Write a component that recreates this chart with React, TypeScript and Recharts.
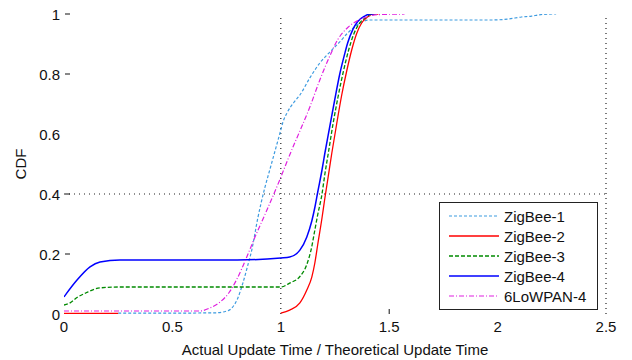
import React from 'react';
import { LineChart, Line, XAxis, YAxis, ReferenceLine, Label } from 'recharts';

// x = actual / theoretical update time, y = CDF
const zb1X = [0.25, 0.5, 0.7, 0.76, 0.78, 0.8, 0.825, 0.845, 0.866, 0.894, 0.926, 0.949, 0.972, 0.995, 1.01, 1.03, 1.06, 1.088, 1.134, 1.18, 1.226, 1.272, 1.309, 1.34, 1.373, 1.41, 1.5, 1.75, 1.963, 2.046, 2.11, 2.157, 2.19, 2.253, 2.27];
const zb1Y = [0.003, 0.003, 0.004, 0.012, 0.025, 0.05, 0.103, 0.155, 0.213, 0.32, 0.42, 0.48, 0.54, 0.6, 0.64, 0.672, 0.705, 0.73, 0.787, 0.837, 0.873, 0.907, 0.937, 0.957, 0.973, 0.98, 0.98, 0.98, 0.98, 0.983, 0.99, 0.993, 0.997, 1.0, 1.0];

const zb2X = [0, 0.25, 0.6, 1.0, 1.041, 1.088, 1.12, 1.143, 1.157, 1.17, 1.19, 1.203, 1.217, 1.235, 1.258, 1.281, 1.304, 1.327, 1.35, 1.373, 1.4, 1.424, 1.45];
const zb2Y = [0.002, 0.002, null, 0.003, 0.013, 0.037, 0.08, 0.123, 0.17, 0.23, 0.32, 0.385, 0.45, 0.535, 0.635, 0.73, 0.81, 0.88, 0.935, 0.97, 0.99, 1.0, 1.0];

const zb3X = [0, 0.028, 0.06, 0.1, 0.166, 0.258, 0.5, 0.8, 1.0, 1.041, 1.088, 1.12, 1.143, 1.157, 1.17, 1.19, 1.203, 1.22, 1.24, 1.263, 1.286, 1.313, 1.336, 1.364, 1.396, 1.42, 1.44];
const zb3Y = [0.03, 0.037, 0.055, 0.07, 0.087, 0.09, 0.09, 0.09, 0.09, 0.103, 0.125, 0.165, 0.225, 0.28, 0.33, 0.4, 0.465, 0.54, 0.63, 0.72, 0.8, 0.88, 0.932, 0.97, 0.99, 1.0, 1.0];

const zb4X = [0, 0.06, 0.12, 0.166, 0.258, 0.5, 0.8, 1.0, 1.041, 1.088, 1.12, 1.143, 1.157, 1.17, 1.19, 1.203, 1.226, 1.249, 1.272, 1.295, 1.309, 1.332, 1.355, 1.387, 1.41, 1.43];
const zb4Y = [0.057, 0.113, 0.157, 0.173, 0.18, 0.18, 0.18, 0.187, 0.19, 0.213, 0.257, 0.31, 0.355, 0.405, 0.48, 0.535, 0.625, 0.715, 0.8, 0.868, 0.905, 0.948, 0.975, 0.993, 1.0, 1.0];

const lpX = [0, 0.3, 0.627, 0.673, 0.72, 0.76, 0.8, 0.843, 0.88, 0.935, 0.995, 1.027, 1.064, 1.088, 1.134, 1.18, 1.226, 1.263, 1.309, 1.355, 1.396, 1.45, 1.571];
const lpY = [0.01, 0.01, 0.01, 0.02, 0.04, 0.07, 0.12, 0.19, 0.255, 0.345, 0.447, 0.505, 0.57, 0.61, 0.69, 0.78, 0.86, 0.915, 0.955, 0.978, 0.99, 0.998, 1.0];

const xTicks = [0, 0.5, 1, 1.5, 2, 2.5];
const yTicks = [0, 0.2, 0.4, 0.6, 0.8, 1];

const toPoints = (xs: number[], ys: (number | null)[]) => xs.map((x, i) => ({ x, y: ys[i] }));

const series = [
    { name: 'ZigBee-1', data: toPoints(zb1X, zb1Y), color: '#3d9be0', dash: '3 2', width: 1.2 },
    { name: 'ZigBee-2', data: toPoints(zb2X, zb2Y), color: '#ff0000', dash: undefined, width: 1.3 },
    { name: 'ZigBee-3', data: toPoints(zb3X, zb3Y), color: '#008a00', dash: '4 2', width: 1.3 },
    { name: 'ZigBee-4', data: toPoints(zb4X, zb4Y), color: '#0000ff', dash: undefined, width: 1.5 },
    { name: '6LoWPAN-4', data: toPoints(lpX, lpY), color: '#e020e0', dash: '5 2 1 2', width: 1.2 },
];

const FONT = '"Liberation Sans", Arial, sans-serif';

const YTick = ({ x, y, payload }: any) => {
    const v = payload.value;
    const showDash = v !== 0 && v !== 0.6;
    return (
        <g>
            <text x={x} y={y} textAnchor="end" dominantBaseline="central" fontSize={15} fill="#111" fontFamily={FONT}>
                {String(v)}
            </text>
            {showDash && <line x1={x + 5} x2={x + 10} y1={y} y2={y} stroke="#111" strokeWidth={1} />}
        </g>
    );
};

const XTick = ({ x, y, payload }: any) => (
    <g>
        <text x={x} y={y + 12} textAnchor="middle" dominantBaseline="central" fontSize={15} fill="#111" fontFamily={FONT}>
            {String(payload.value)}
        </text>
        {payload.value === 1.5 && <line x1={x} x2={x} y1={y - 5} y2={y} stroke="#111" strokeWidth={1} />}
    </g>
);

export default function App() {
    return (
        <div style={{ position: 'absolute', left: 0, top: 0, width: 632, height: 360, background: '#fff', fontFamily: FONT }}>
            <LineChart width={632} height={360} margin={{ top: 14, right: 26, left: 4, bottom: 0 }}>
                <XAxis
                    type="number"
                    dataKey="x"
                    domain={[0, 2.5]}
                    ticks={xTicks}
                    axisLine={false}
                    tickLine={false}
                    tickSize={0}
                    tickMargin={0}
                    height={46}
                    tick={<XTick />}
                    allowDataOverflow
                >
                    <Label value="Actual Update Time / Theoretical Update Time" position="insideBottom" offset={5} style={{ fontSize: 15, fill: '#111', fontFamily: FONT }} />
                </XAxis>
                <YAxis
                    type="number"
                    dataKey="y"
                    domain={[0, 1]}
                    ticks={yTicks}
                    axisLine={false}
                    tickLine={false}
                    tickSize={0}
                    tickMargin={4}
                    width={60}
                    tick={<YTick />}
                    allowDataOverflow
                >
                    <Label value="CDF" angle={-90} position="insideLeft" offset={17} style={{ fontSize: 15, fill: '#111', fontFamily: FONT, textAnchor: 'middle' }} />
                </YAxis>
                <ReferenceLine x={1} stroke="#222" strokeDasharray="1 4" strokeWidth={1.2} />
                <ReferenceLine x={2.5} stroke="#222" strokeDasharray="1 4" strokeWidth={1.2} />
                <ReferenceLine y={0.4} stroke="#222" strokeDasharray="1 4" strokeWidth={1.2} />
                {series.map((s) => (
                    <Line
                        key={s.name}
                        data={s.data}
                        dataKey="y"
                        name={s.name}
                        type="monotone"
                        stroke={s.color}
                        strokeWidth={s.width}
                        strokeDasharray={s.dash}
                        dot={false}
                        activeDot={false}
                        connectNulls={false}
                        isAnimationActive={false}
                    />
                ))}
            </LineChart>
            <div
                style={{
                    position: 'absolute',
                    left: 439,
                    top: 202,
                    width: 157,
                    height: 103,
                    border: '1px solid #222',
                    background: '#fff',
                    paddingTop: 3,
                    boxSizing: 'content-box',
                }}
            >
                {series.map((s) => (
                    <div key={s.name} style={{ display: 'flex', alignItems: 'center', height: 20 }}>
                        <svg width={60} height={20} style={{ flex: 'none' }}>
                            <line x1={9} x2={59} y1={10} y2={10} stroke={s.color} strokeWidth={s.width} strokeDasharray={s.dash} />
                        </svg>
                        <span style={{ fontSize: 15, color: '#111', marginLeft: 4, whiteSpace: 'nowrap' }}>{s.name}</span>
                    </div>
                ))}
            </div>
        </div>
    );
}
